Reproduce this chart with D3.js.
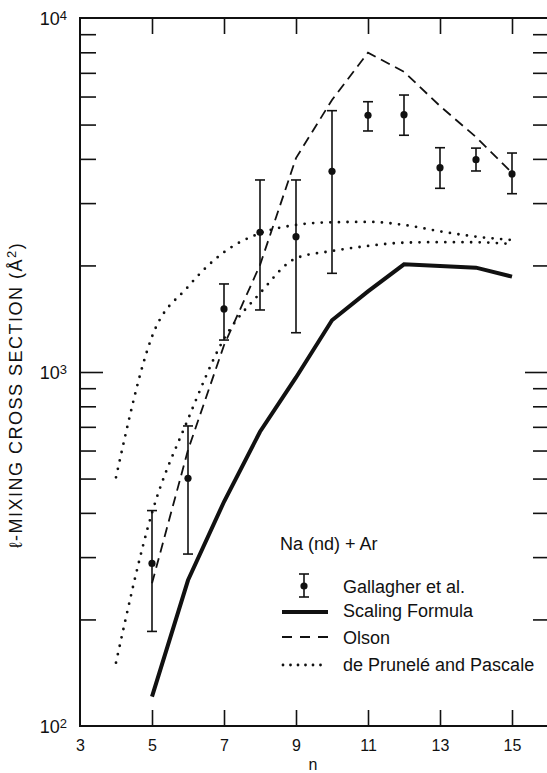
<!DOCTYPE html>
<html>
<head>
<meta charset="utf-8">
<script src="https://cdn.jsdelivr.net/npm/d3@7"></script>
<style>
body { margin: 0; background: #fff; }
svg { display: block; font-family: "Liberation Sans", Arial, Helvetica, sans-serif; }
</style>
</head>
<body>
<div id="chart"></div>
<script>
// values (cross section in A^2 vs n)
const nGal = [5, 6, 7, 8, 9, 10, 11, 12, 13, 14, 15];
const galMid = [288, 501, 1507, 2480, 2412, 3690, 5310, 5333, 3777, 3980, 3626];
const galLo = [185, 306, 1231, 1497, 1291, 1900, 4796, 4664, 3303, 3697, 3189];
const galHi = [406, 704, 1773, 3487, 3487, 5473, 5801, 6059, 4301, 4290, 4155];

const nScaling = [5, 6, 7, 8, 9, 10, 11, 12, 13, 14, 15];
const scaling = [121, 258, 430, 678, 965, 1400, 1690, 2015, 1993, 1971, 1859];

const nOlson = [5, 6, 7, 8, 9, 10, 11, 12, 13, 14, 15];
const olson = [253, 602, 1190, 2005, 4020, 5870, 7980, 7050, 5640, 4610, 3650];

const nPrunele = [4, 5, 6, 7, 8, 9, 10, 11, 12, 13, 14, 15];
const pruneleUpper = [504, 1258, 1740, 2180, 2465, 2603, 2648, 2655, 2603, 2497, 2412, 2360];
const pruneleLower = [151, 400, 735, 1240, 1669, 2095, 2197, 2270, 2319, 2327, 2325, 2299];

const xLabels = [3, 5, 7, 9, 11, 13, 15];
const xTicks = [5, 7, 9, 11, 13, 15];
const yDecades = [100, 1000, 10000];
const yMinor = [200, 300, 400, 500, 600, 700, 800, 900, 2000, 3000, 4000, 5000, 6000, 7000, 8000, 9000];

const W = 547, H = 773;
const svg = d3.select("#chart").append("svg")
    .attr("width", W)
    .attr("height", H);

const x = d3.scaleLinear().domain([3, 16]).range([80, 548]);
const y = d3.scaleLog().domain([100, 10000]).range([726, 18]);

// frame
svg.append("rect")
    .attr("x", x(3)).attr("y", y(10000))
    .attr("width", x(16) - x(3)).attr("height", y(100) - y(10000))
    .attr("fill", "none").attr("stroke", "#111").attr("stroke-width", 2);

function tickAxis(axis, tr) {
    let g = svg.append("g").attr("transform", tr).call(axis);
    g.select(".domain").remove();
    g.selectAll("line").attr("stroke", "#111").attr("stroke-width", 1.6);
    g.selectAll("text").remove();
    return g;
}
tickAxis(d3.axisLeft(y).tickValues(yMinor).tickSize(-16), `translate(${x(3)},0)`);
tickAxis(d3.axisLeft(y).tickValues([1000]).tickSize(-23), `translate(${x(3)},0)`);
tickAxis(d3.axisRight(y).tickValues(yMinor).tickSize(-15), `translate(${x(16)},0)`);
tickAxis(d3.axisRight(y).tickValues([1000]).tickSize(-23), `translate(${x(16)},0)`);
tickAxis(d3.axisBottom(x).tickValues(xTicks).tickSize(-16), `translate(0,${y(100)})`);
tickAxis(d3.axisTop(x).tickValues(xTicks).tickSize(-16), `translate(0,${y(10000)})`);

// x tick labels
let xl = svg.append("g").attr("transform", `translate(0,${y(100)})`)
    .call(d3.axisBottom(x).tickValues(xLabels).tickSize(0).tickPadding(14).tickFormat(d3.format("d")));
xl.select(".domain").remove();
xl.selectAll("text").attr("font-size", 16).attr("font-family", "Liberation Sans, Arial, sans-serif").attr("fill", "#111");

svg.append("text")
    .attr("x", (x(3) + x(16)) / 2 - 1).attr("y", 770)
    .attr("text-anchor", "middle").attr("font-size", 16).attr("fill", "#111")
    .text("n");

// y decade labels
yDecades.forEach(v => {
    let t = svg.append("text")
        .attr("x", 67).attr("y", y(v) + 6.5)
        .attr("text-anchor", "end").attr("font-size", 18).attr("fill", "#111");
    t.append("tspan").text("10");
    t.append("tspan").attr("font-size", 13).attr("dy", -5).text(Math.round(Math.log10(v)));
});

// y title
let yt = svg.append("text")
    .attr("transform", "translate(22,395) rotate(-90)")
    .attr("text-anchor", "middle").attr("font-size", 18).attr("letter-spacing", 1.5)
    .attr("fill", "#111");
yt.append("tspan").text("\u2113-MIXING CROSS SECTION (\u00C5");
yt.append("tspan").attr("font-size", 13).attr("dy", -6).text("2");
yt.append("tspan").attr("dy", 6).text(")");

// lines
const lineLin = d3.line().x(d => x(d[0])).y(d => y(d[1]));
const lineSmooth = d3.line().x(d => x(d[0])).y(d => y(d[1])).curve(d3.curveMonotoneX);

svg.append("path")
    .datum(d3.zip(nScaling, scaling))
    .attr("d", lineLin)
    .attr("fill", "none").attr("stroke", "#111").attr("stroke-width", 4);

svg.append("path")
    .datum(d3.zip(nOlson, olson))
    .attr("d", lineLin)
    .attr("fill", "none").attr("stroke", "#111").attr("stroke-width", 1.8)
    .attr("stroke-dasharray", "10,6");

[pruneleUpper, pruneleLower].forEach(vals => {
    svg.append("path")
        .datum(d3.zip(nPrunele, vals))
        .attr("d", lineSmooth)
        .attr("fill", "none").attr("stroke", "#111").attr("stroke-width", 2.8)
        .attr("stroke-linecap", "round")
        .attr("stroke-dasharray", "0,8.6");
});

// error bars
const gal = nGal.map((n, i) => ({ n: n, mid: galMid[i], lo: galLo[i], hi: galHi[i] }));
let eb = svg.append("g").selectAll("g").data(gal).enter().append("g");
eb.append("line")
    .attr("x1", d => x(d.n)).attr("x2", d => x(d.n))
    .attr("y1", d => y(d.lo)).attr("y2", d => y(d.hi))
    .attr("stroke", "#111").attr("stroke-width", 1.6);
eb.append("line")
    .attr("x1", d => x(d.n) - 5).attr("x2", d => x(d.n) + 5)
    .attr("y1", d => y(d.lo)).attr("y2", d => y(d.lo))
    .attr("stroke", "#111").attr("stroke-width", 1.6);
eb.append("line")
    .attr("x1", d => x(d.n) - 5).attr("x2", d => x(d.n) + 5)
    .attr("y1", d => y(d.hi)).attr("y2", d => y(d.hi))
    .attr("stroke", "#111").attr("stroke-width", 1.6);
eb.append("circle")
    .attr("cx", d => x(d.n)).attr("cy", d => y(d.mid)).attr("r", 3.6)
    .attr("fill", "#111");

// legend
let lg = svg.append("g").attr("font-size", 18).attr("fill", "#111");
lg.append("text").attr("x", 280).attr("y", 550).text("Na (nd) + Ar");

lg.append("line").attr("x1", 304).attr("x2", 304).attr("y1", 574).attr("y2", 597)
    .attr("stroke", "#111").attr("stroke-width", 1.6);
lg.append("line").attr("x1", 299).attr("x2", 309).attr("y1", 574).attr("y2", 574)
    .attr("stroke", "#111").attr("stroke-width", 1.6);
lg.append("line").attr("x1", 299).attr("x2", 309).attr("y1", 597).attr("y2", 597)
    .attr("stroke", "#111").attr("stroke-width", 1.6);
lg.append("circle").attr("cx", 304).attr("cy", 586).attr("r", 3.6).attr("fill", "#111");
lg.append("text").attr("x", 343).attr("y", 593).text("Gallagher et al.");

lg.append("line").attr("x1", 282).attr("x2", 328).attr("y1", 612).attr("y2", 612)
    .attr("stroke", "#111").attr("stroke-width", 4);
lg.append("text").attr("x", 343).attr("y", 617).text("Scaling Formula");

lg.append("line").attr("x1", 282).attr("x2", 328).attr("y1", 637).attr("y2", 637)
    .attr("stroke", "#111").attr("stroke-width", 1.8).attr("stroke-dasharray", "10,8");
lg.append("text").attr("x", 343).attr("y", 644).text("Olson");

lg.append("line").attr("x1", 283).attr("x2", 328).attr("y1", 665).attr("y2", 665)
    .attr("stroke", "#111").attr("stroke-width", 2.8).attr("stroke-linecap", "round")
    .attr("stroke-dasharray", "0,7.5");
lg.append("text").attr("x", 343).attr("y", 671).text("de Prunel\u00E9 and Pascale");
</script>
</body>
</html>
